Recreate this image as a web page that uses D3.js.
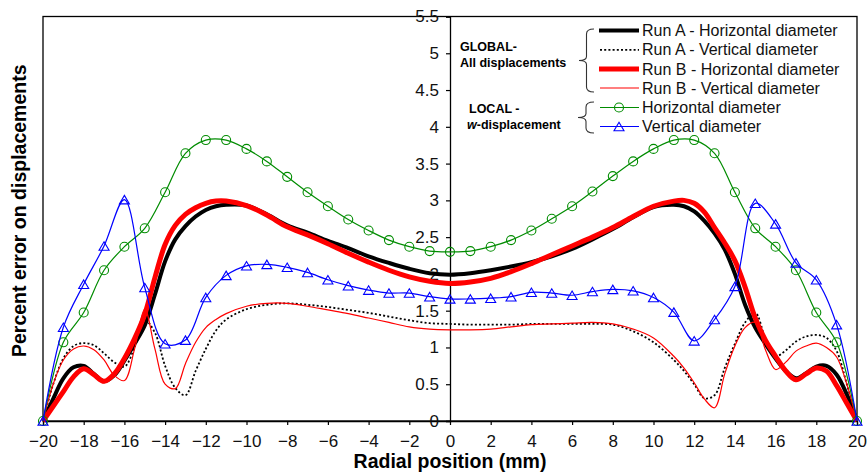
<!DOCTYPE html>
<html>
<head>
<meta charset="utf-8">
<script src="https://cdn.jsdelivr.net/npm/d3@7"></script>
<style>
  html, body { margin: 0; padding: 0; background: #fff; }
  svg { display: block; }
  text { font-family: "Liberation Sans", Arial, Helvetica, sans-serif; }
</style>
</head>
<body>
<svg id="chart" width="867" height="475"></svg>
<script>
// Radial positions (mm) of the global (all-displacement) profiles
const globalX = [-20, -19.5, -19, -18.5, -18, -17.5, -17, -16.5, -16, -15.5, -15, -14.5, -14, -13.5, -13, -12.5, -12, -11.5, -11,
  -10, -9, -8, -7, -6, -5, -4, -3, -2, -1, 0, 1, 2, 3, 4, 5, 6, 7, 8, 9, 10,
  11, 11.5, 12, 12.5, 13, 13.5, 14, 14.5, 15, 15.5, 16, 16.5, 17, 17.5, 18, 18.5, 19, 19.5, 20];

const runAHorizontal = [0, 0.30, 0.58, 0.73, 0.75, 0.64, 0.54, 0.62, 0.82, 1.05, 1.30, 1.72, 2.17, 2.47, 2.65, 2.78, 2.87, 2.92, 2.94,
  2.93, 2.81, 2.66, 2.56, 2.45, 2.35, 2.24, 2.15, 2.07, 2.01, 1.99, 2.01, 2.05, 2.10, 2.16, 2.24, 2.34, 2.47, 2.61, 2.77, 2.91,
  2.94, 2.92, 2.85, 2.72, 2.55, 2.33, 2.00, 1.58, 1.27, 1.05, 0.85, 0.68, 0.58, 0.65, 0.74, 0.75, 0.63, 0.36, 0];

const runAVertical = [0, 0.50, 0.85, 1.02, 1.06, 1.03, 0.92, 0.80, 0.74, 1.00, 1.37, 1.20, 0.75, 0.45, 0.35, 0.68, 0.98, 1.23, 1.38,
  1.52, 1.58, 1.60, 1.58, 1.55, 1.51, 1.47, 1.42, 1.37, 1.33, 1.32, 1.31, 1.31, 1.31, 1.32, 1.32, 1.32, 1.32, 1.31, 1.22, 1.07,
  0.83, 0.68, 0.50, 0.31, 0.35, 0.72, 1.05, 1.34, 1.47, 1.12, 0.88, 0.96, 1.08, 1.15, 1.17, 1.13, 0.95, 0.50, 0];

const runBHorizontal = [0, 0.20, 0.40, 0.60, 0.71, 0.63, 0.54, 0.64, 0.85, 1.12, 1.45, 1.95, 2.40, 2.66, 2.81, 2.90, 2.96, 2.99, 2.99,
  2.93, 2.80, 2.64, 2.53, 2.41, 2.28, 2.16, 2.05, 1.96, 1.90, 1.87, 1.89, 1.94, 2.03, 2.14, 2.26, 2.38, 2.50, 2.63, 2.78, 2.92,
  2.99, 3.00, 2.96, 2.84, 2.63, 2.42, 2.18, 1.82, 1.40, 1.10, 0.88, 0.68, 0.56, 0.64, 0.72, 0.68, 0.48, 0.24, 0];

const runBVertical = [0, 0.50, 0.83, 0.98, 1.02, 0.97, 0.83, 0.62, 0.55, 0.98, 1.52, 0.98, 0.50, 0.44, 0.78, 1.07, 1.27, 1.38, 1.46,
  1.56, 1.60, 1.60, 1.56, 1.51, 1.46, 1.40, 1.34, 1.28, 1.25, 1.24, 1.24, 1.25, 1.28, 1.31, 1.32, 1.33, 1.34, 1.32, 1.25, 1.13,
  0.88, 0.72, 0.52, 0.30, 0.18, 0.64, 1.02, 1.27, 1.34, 0.97, 0.70, 0.80, 0.95, 1.02, 1.06, 1.00, 0.87, 0.50, 0];

// Radial positions (mm) of the local w-displacement measurements
const localX = [-20, -19, -18, -17, -16, -15, -14, -13, -12, -11, -10, -9, -8, -7, -6, -5, -4, -3, -2, -1,
  0, 1, 2, 3, 4, 5, 6, 7, 8, 9, 10, 11, 12, 13, 14, 15, 16, 17, 18, 19, 20];

const localHorizontal = [0, 1.07, 1.475, 2.05, 2.37, 2.62, 3.11, 3.64, 3.82, 3.82, 3.70, 3.53, 3.32, 3.11, 2.92, 2.74, 2.59, 2.46, 2.37, 2.31,
  2.30, 2.31, 2.37, 2.46, 2.59, 2.75, 2.92, 3.12, 3.33, 3.53, 3.70, 3.82, 3.82, 3.64, 3.11, 2.62, 2.37, 2.05, 1.475, 1.07, 0];

const localVertical = [0, 1.275, 1.86, 2.38, 3.01, 1.815, 1.05, 1.10, 1.68, 1.98, 2.11, 2.13, 2.09, 2.02, 1.92, 1.84, 1.78, 1.74, 1.74, 1.69,
  1.66, 1.66, 1.67, 1.69, 1.75, 1.74, 1.71, 1.76, 1.79, 1.77, 1.68, 1.48, 1.09, 1.38, 1.83, 2.96, 2.68, 2.15, 1.92, 1.31, 0];

const xTickValues = [-20, -18, -16, -14, -12, -10, -8, -6, -4, -2, 0, 2, 4, 6, 8, 10, 12, 14, 16, 18, 20];
const yTickValues = [0, 0.5, 1, 1.5, 2, 2.5, 3, 3.5, 4, 4.5, 5, 5.5];

const xTitle = "Radial position (mm)";
const yTitle = "Percent error on displacements";

const globalLegend = ["Run A - Horizontal diameter", "Run A - Vertical diameter",
  "Run B - Horizontal diameter", "Run B - Vertical diameter"];
const localLegend = ["Horizontal diameter", "Vertical diameter"];

// ---- layout ----
const svg = d3.select("#chart");
const plot = { left: 43, right: 857, top: 16.5, bottom: 421 };

const x = d3.scaleLinear().domain([-20, 20]).range([plot.left, plot.right]);
const y = d3.scaleLinear().domain([0, 5.5]).range([plot.bottom, plot.top]);

const GREEN = "#008c00", BLUE = "#0000ff", RED = "#ff0000";

const styles = {
  aH: { stroke: "#000", width: 4, dash: null },
  aV: { stroke: "#000", width: 1.8, dash: "2,2.2" },
  bH: { stroke: RED, width: 5, dash: null },
  bV: { stroke: RED, width: 1.2, dash: null }
};

// ---- frame ----
svg.append("rect")
  .attr("x", plot.left).attr("y", plot.top)
  .attr("width", plot.right - plot.left).attr("height", plot.bottom - plot.top)
  .attr("fill", "none").attr("stroke", "#000").attr("stroke-width", 1.3);

// ---- x axis along the bottom ----
const xAxis = d3.axisBottom(x).tickValues(xTickValues).tickSize(4).tickPadding(10)
  .tickFormat(d3.format("d"));
const gx = svg.append("g").attr("transform", `translate(0,${plot.bottom})`).call(xAxis);
gx.select(".domain").attr("stroke-width", 1.3);
gx.selectAll(".tick line").attr("stroke-width", 1.2);
gx.selectAll(".tick text").attr("font-size", 17).attr("font-family", "Liberation Sans, Arial, sans-serif")
  .attr("fill", "#111");

// ---- y axis through x = 0 ----
const yAxis = d3.axisLeft(y).tickValues(yTickValues).tickSize(4).tickPadding(7)
  .tickFormat(d => d === 0 ? "0" : d3.format("~g")(d));
const gy = svg.append("g").attr("transform", `translate(${x(0)},0)`).call(yAxis);
gy.select(".domain").attr("stroke-width", 1.3);
gy.selectAll(".tick line").attr("stroke-width", 1.2);
gy.selectAll(".tick text").attr("font-size", 17).attr("font-family", "Liberation Sans, Arial, sans-serif")
  .attr("fill", "#111");

// ---- axis titles ----
svg.append("text")
  .attr("x", x(0)).attr("y", 468)
  .attr("text-anchor", "middle").attr("font-size", 19.5).attr("font-weight", "bold")
  .text(xTitle);

svg.append("text")
  .attr("transform", `translate(26,${(plot.top + plot.bottom) / 2 - 8}) rotate(-90)`)
  .attr("text-anchor", "middle").attr("font-size", 19.5).attr("font-weight", "bold")
  .text(yTitle);

// ---- global profiles ----
const globalLine = d3.line().curve(d3.curveCatmullRom.alpha(0.5))
  .x(d => x(d[0])).y(d => y(d[1]));

function drawGlobal(values, st) {
  const pts = globalX.map((v, i) => [v, values[i]]);
  svg.append("path")
    .attr("d", globalLine(pts))
    .attr("fill", "none")
    .attr("stroke", st.stroke)
    .attr("stroke-width", st.width)
    .attr("stroke-dasharray", st.dash)
    .attr("stroke-linejoin", "round");
}

drawGlobal(runAHorizontal, styles.aH);
drawGlobal(runAVertical, styles.aV);
drawGlobal(runBHorizontal, styles.bH);
drawGlobal(runBVertical, styles.bV);

// ---- local w-displacement measurements ----
const localLine = d3.line().curve(d3.curveCatmullRom.alpha(0.5))
  .x(d => x(d[0])).y(d => y(d[1]));

function trianglePath(cx, cy, w, h) {
  return `M${cx},${cy - h / 2}L${cx + w / 2},${cy + h / 2}L${cx - w / 2},${cy + h / 2}Z`;
}

const hPts = localX.map((v, i) => [v, localHorizontal[i]]);
const vPts = localX.map((v, i) => [v, localVertical[i]]);

svg.append("path").attr("d", localLine(hPts))
  .attr("fill", "none").attr("stroke", GREEN).attr("stroke-width", 1.2);
svg.append("g").selectAll("circle").data(hPts).join("circle")
  .attr("cx", d => x(d[0])).attr("cy", d => y(d[1])).attr("r", 4.5)
  .attr("fill", "none").attr("stroke", GREEN).attr("stroke-width", 1.1);

svg.append("path").attr("d", localLine(vPts))
  .attr("fill", "none").attr("stroke", BLUE).attr("stroke-width", 1.2);
svg.append("g").selectAll("path").data(vPts).join("path")
  .attr("d", d => trianglePath(x(d[0]), y(d[1]), 10, 8.5))
  .attr("fill", "none").attr("stroke", BLUE).attr("stroke-width", 1.1);

// ---- legend ----
const legend = svg.append("g");
const rowY = [30.5, 49.8, 69, 88, 107.5, 126.5];
const sampleX0 = 599, sampleX1 = 639, labelX = 642;

function brace(xv, y0, y1, tipX, hookX) {
  const ym = (y0 + y1) / 2;
  return `M${hookX},${y0} Q${xv},${y0} ${xv},${y0 + 5} L${xv},${ym - 4} Q${xv},${ym} ${tipX},${ym}` +
    ` Q${xv},${ym} ${xv},${ym + 4} L${xv},${y1 - 5} Q${xv},${y1} ${hookX},${y1}`;
}
legend.append("path").attr("d", brace(586.5, 29, 92, 579, 594))
  .attr("fill", "none").attr("stroke", "#333").attr("stroke-width", 1.1);
legend.append("path").attr("d", brace(586, 102, 133, 578, 594))
  .attr("fill", "none").attr("stroke", "#333").attr("stroke-width", 1.1);

legend.append("text").attr("x", 460).attr("y", 51).attr("font-size", 12.5).attr("font-weight", "bold")
  .text("GLOBAL-");
legend.append("text").attr("x", 460).attr("y", 67).attr("font-size", 12.5).attr("font-weight", "bold")
  .text("All displacements");
legend.append("text").attr("x", 469).attr("y", 113).attr("font-size", 12.5).attr("font-weight", "bold")
  .text("LOCAL -");
const wText = legend.append("text").attr("x", 467).attr("y", 129).attr("font-size", 12.5).attr("font-weight", "bold");
wText.append("tspan").attr("font-style", "italic").text("w");
wText.append("tspan").text("-displacement");

const globalStyles = [styles.aH, styles.aV, styles.bH, styles.bV];
globalLegend.forEach((label, i) => {
  const st = globalStyles[i];
  legend.append("line")
    .attr("x1", st.width > 3 ? sampleX0 : 600).attr("x2", sampleX1)
    .attr("y1", rowY[i]).attr("y2", rowY[i])
    .attr("stroke", st.stroke).attr("stroke-width", st.width).attr("stroke-dasharray", st.dash);
  legend.append("text").attr("x", labelX).attr("y", rowY[i] + 5.6)
    .attr("font-size", 16).attr("fill", "#111").text(label);
});

// local legend rows
legend.append("line").attr("x1", 600).attr("x2", 639).attr("y1", rowY[4]).attr("y2", rowY[4])
  .attr("stroke", GREEN).attr("stroke-width", 1.2);
legend.append("circle").attr("cx", 619).attr("cy", rowY[4]).attr("r", 4.5)
  .attr("fill", "none").attr("stroke", GREEN).attr("stroke-width", 1.1);
legend.append("text").attr("x", labelX).attr("y", rowY[4] + 5.6)
  .attr("font-size", 16).attr("fill", "#111").text(localLegend[0]);

legend.append("line").attr("x1", 600).attr("x2", 639).attr("y1", rowY[5]).attr("y2", rowY[5])
  .attr("stroke", BLUE).attr("stroke-width", 1.2);
legend.append("path").attr("d", trianglePath(619, rowY[5], 10, 8.5))
  .attr("fill", "none").attr("stroke", BLUE).attr("stroke-width", 1.1);
legend.append("text").attr("x", labelX).attr("y", rowY[5] + 5.6)
  .attr("font-size", 16).attr("fill", "#111").text(localLegend[1]);
</script>
</body>
</html>
